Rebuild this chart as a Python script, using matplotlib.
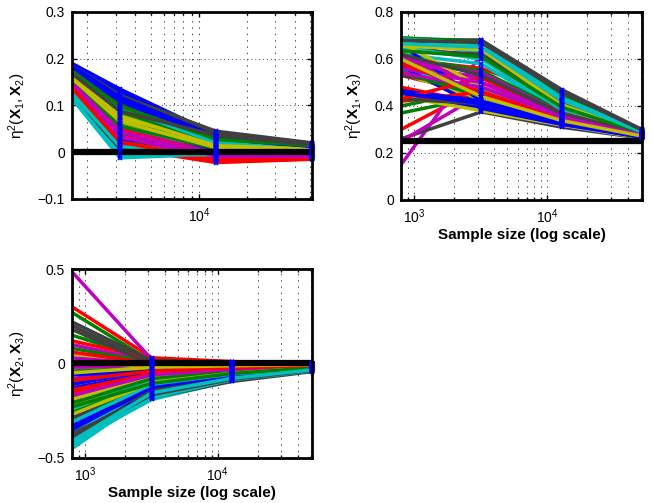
import numpy as np
import matplotlib.pyplot as plt
from matplotlib.ticker import NullFormatter, LogLocator

# Sample sizes (first panel starts at the visible left edge)
N1 = [1600, 3200, 12800, 51200]
N = [800, 3200, 12800, 51200]

# eta^2(X1,X2) per replicate
eta_12 = [
    [0.190, 0.135, 0.038, 0.012], [0.186, 0.126, 0.042, 0.018], [0.128, 0.010, -0.022, -0.015],
    [0.115, -0.012, -0.004, -0.006], [0.140, 0.040, -0.012, -0.010], [0.170, 0.085, 0.020, 0.006],
    [0.184, 0.120, 0.045, 0.020], [0.188, 0.130, 0.035, 0.010], [0.178, 0.105, 0.030, 0.015],
    [0.145, 0.030, -0.018, -0.013], [0.165, 0.070, 0.012, 0.004], [0.150, 0.045, 0.002, -0.004],
    [0.160, 0.075, 0.015, 0.006], [0.176, 0.100, 0.040, 0.017], [0.182, 0.115, 0.028, 0.008],
    [0.172, 0.094, 0.026, 0.012], [0.135, 0.018, -0.020, -0.014], [0.120, 0.002, -0.008, -0.008],
    [0.155, 0.052, -0.006, -0.009], [0.166, 0.080, 0.010, 0.003], [0.158, 0.060, 0.022, 0.010],
    [0.174, 0.110, 0.024, 0.009], [0.168, 0.090, 0.018, 0.011], [0.148, 0.036, -0.015, -0.012],
    [0.162, 0.066, 0.008, 0.002], [0.132, 0.025, -0.010, -0.011], [0.152, 0.058, 0.005, 0.001],
    [0.142, 0.042, 0.004, 0.000], [0.138, 0.028, 0.006, 0.002], [0.163, 0.082, 0.022, 0.013],
    [0.125, 0.014, -0.016, -0.013], [0.118, 0.005, 0.000, -0.004], [0.147, 0.050, -0.002, -0.006],
    [0.156, 0.070, 0.012, 0.005], [0.130, 0.022, -0.004, -0.003], [0.180, 0.125, 0.032, 0.014],
    [0.160, 0.064, 0.016, 0.008], [0.136, 0.048, -0.008, -0.007], [0.170, 0.096, 0.020, 0.007],
    [0.144, 0.032, -0.004, -0.008], [0.124, 0.020, -0.012, -0.010], [0.122, 0.008, -0.006, -0.005],
    [0.178, 0.112, 0.030, 0.011], [0.154, 0.056, 0.008, 0.004], [0.133, 0.016, -0.019, -0.014],
    [0.126, 0.012, -0.002, -0.004], [0.141, 0.034, -0.014, -0.009], [0.164, 0.078, 0.014, 0.007],
    [0.185, 0.122, 0.043, 0.019], [0.184, 0.118, 0.033, 0.012], [0.174, 0.098, 0.028, 0.014],
    [0.139, 0.022, -0.017, -0.012], [0.117, -0.008, -0.005, -0.007], [0.149, 0.044, -0.008, -0.009],
    [0.158, 0.066, 0.010, 0.004], [0.168, 0.088, 0.036, 0.016],
]

# eta^2(X1,X3)
eta_13 = [
    [0.620, 0.400, 0.330, 0.272], [0.370, 0.440, 0.338, 0.271], [0.300, 0.480, 0.350, 0.274],
    [0.690, 0.675, 0.420, 0.285], [0.150, 0.620, 0.395, 0.286], [0.650, 0.650, 0.410, 0.288],
    [0.260, 0.375, 0.310, 0.263], [0.470, 0.395, 0.320, 0.266], [0.685, 0.680, 0.450, 0.296],
    [0.600, 0.560, 0.440, 0.295], [0.680, 0.660, 0.430, 0.290], [0.250, 0.450, 0.345, 0.272],
    [0.640, 0.420, 0.340, 0.276], [0.675, 0.680, 0.470, 0.300], [0.460, 0.385, 0.315, 0.265],
    [0.660, 0.640, 0.400, 0.284], [0.590, 0.500, 0.365, 0.280], [0.670, 0.630, 0.390, 0.283],
    [0.550, 0.460, 0.350, 0.277], [0.630, 0.670, 0.415, 0.287], [0.660, 0.600, 0.440, 0.292],
    [0.450, 0.400, 0.325, 0.268], [0.400, 0.470, 0.360, 0.279], [0.530, 0.450, 0.342, 0.274],
    [0.620, 0.580, 0.375, 0.281], [0.580, 0.520, 0.360, 0.278], [0.540, 0.430, 0.335, 0.270],
    [0.530, 0.480, 0.355, 0.276], [0.660, 0.420, 0.328, 0.269], [0.610, 0.550, 0.380, 0.282],
    [0.480, 0.410, 0.330, 0.270], [0.560, 0.470, 0.348, 0.275], [0.600, 0.540, 0.370, 0.280],
    [0.440, 0.380, 0.318, 0.264], [0.640, 0.620, 0.420, 0.290], [0.570, 0.390, 0.322, 0.267],
    [0.545, 0.440, 0.340, 0.273], [0.420, 0.460, 0.345, 0.276], [0.650, 0.600, 0.385, 0.284],
    [0.610, 0.500, 0.358, 0.279], [0.670, 0.480, 0.352, 0.277], [0.430, 0.410, 0.335, 0.271],
    [0.465, 0.420, 0.330, 0.268], [0.690, 0.670, 0.440, 0.293], [0.430, 0.520, 0.370, 0.280],
    [0.685, 0.665, 0.435, 0.292], [0.560, 0.500, 0.362, 0.278], [0.655, 0.640, 0.405, 0.286],
    [0.620, 0.530, 0.368, 0.279], [0.455, 0.410, 0.327, 0.267], [0.635, 0.610, 0.395, 0.285],
    [0.580, 0.460, 0.346, 0.275], [0.665, 0.650, 0.425, 0.289], [0.540, 0.480, 0.354, 0.276],
    [0.600, 0.440, 0.338, 0.272], [0.680, 0.670, 0.460, 0.298],
]

# eta^2(X2,X3)
eta_23 = [
    [-0.200, 0.020, 0.005, -0.002], [0.270, 0.010, 0.004, 0.000], [0.300, 0.030, 0.010, 0.002],
    [-0.450, -0.160, -0.085, -0.040], [0.485, 0.020, 0.006, 0.001], [-0.120, -0.080, -0.045, -0.020],
    [0.200, 0.000, 0.002, -0.001], [-0.380, -0.140, -0.070, -0.030], [0.150, 0.015, 0.003, 0.000],
    [-0.150, -0.060, -0.030, -0.012], [-0.420, -0.190, -0.090, -0.038], [-0.080, -0.030, -0.015, -0.008],
    [0.050, -0.010, -0.008, -0.005], [-0.340, -0.180, -0.095, -0.043], [-0.280, -0.120, -0.060, -0.025],
    [-0.300, -0.100, -0.050, -0.022], [0.120, 0.025, 0.008, 0.001], [-0.360, -0.130, -0.065, -0.028],
    [0.100, 0.010, 0.002, -0.001], [-0.250, -0.090, -0.040, -0.018], [-0.320, -0.150, -0.075, -0.033],
    [-0.060, -0.040, -0.020, -0.010], [0.080, 0.005, 0.000, -0.002], [-0.180, -0.070, -0.035, -0.015],
    [-0.400, -0.170, -0.080, -0.035], [-0.020, -0.015, -0.010, -0.006], [-0.220, -0.110, -0.055, -0.024],
    [0.180, -0.005, 0.000, -0.002], [-0.330, -0.120, -0.062, -0.026], [-0.260, -0.095, -0.048, -0.021],
    [0.060, 0.000, -0.004, -0.003], [-0.240, -0.085, -0.042, -0.019], [-0.100, -0.045, -0.025, -0.011],
    [0.020, -0.020, -0.012, -0.007], [-0.370, -0.175, -0.088, -0.040], [-0.130, -0.050, -0.028, -0.013],
    [-0.040, -0.025, -0.014, -0.008], [-0.160, -0.075, -0.038, -0.016], [-0.430, -0.180, -0.086, -0.039],
    [0.030, -0.005, -0.006, -0.004], [-0.190, -0.065, -0.033, -0.014], [-0.290, -0.135, -0.068, -0.030],
    [-0.350, -0.125, -0.064, -0.027], [-0.210, -0.080, -0.040, -0.017], [-0.140, -0.055, -0.027, -0.011],
    [-0.310, -0.110, -0.056, -0.024], [-0.170, -0.060, -0.031, -0.013], [-0.270, -0.100, -0.052, -0.023],
    [-0.390, -0.165, -0.083, -0.037], [-0.110, -0.035, -0.018, -0.009], [-0.230, -0.105, -0.053, -0.023],
    [-0.090, -0.040, -0.022, -0.010], [-0.410, -0.155, -0.078, -0.034], [0.010, -0.010, -0.007, -0.004],
    [-0.050, -0.020, -0.012, -0.006], [0.220, 0.015, 0.005, 0.000],
]

# Reference (true) values
ref_12 = 0.0
ref_13 = 0.25
ref_23 = 0.0

# Old MATLAB colour order
COLORS = [(0, 0, 1), (0, 0.5, 0), (1, 0, 0), (0, 0.75, 0.75),
          (0.75, 0, 0.75), (0.75, 0.75, 0), (0.25, 0.25, 0.25)]

plt.rcParams['font.family'] = 'Liberation Sans'
plt.rcParams['mathtext.fontset'] = 'custom'
plt.rcParams['mathtext.rm'] = 'Liberation Sans'
plt.rcParams['mathtext.bf'] = 'Liberation Sans:bold'
plt.rcParams['mathtext.it'] = 'Liberation Sans:italic'
plt.rcParams['mathtext.default'] = 'regular'


def panel(ax, n, curves, ref, xlim, ylim, yticks, ylabel, xlabel=None):
    for i, c in enumerate(curves):
        ax.plot(n, c, '-', color=COLORS[i % 7], lw=2.5, zorder=2)
    ax.axhline(ref, color='k', lw=4.5, zorder=3)
    for c in curves:
        ax.plot(n[1:], c[1:], 'x', color='b', ms=3.5, mew=1.2, zorder=4, clip_on=False)
    ax.set_xscale('log')
    ax.set_xlim(xlim)
    ax.set_ylim(ylim)
    ax.set_yticks(yticks)
    ax.set_yticklabels([f'{t:g}'.replace('-', '\u2212') for t in yticks])
    ax.xaxis.set_minor_locator(LogLocator(base=10, subs=np.arange(2, 10)))
    ax.xaxis.set_minor_formatter(NullFormatter())
    ax.set_axisbelow(True)
    ax.grid(True, axis='x', which='both', color='0.3', lw=0.7, ls=(0, (1.5, 5)))
    ax.grid(True, axis='y', which='major', color='0.3', lw=0.7, ls=(0, (1, 3)))
    ax.tick_params(which='both', direction='in', top=True, right=True, labelsize=10, width=1)
    ax.tick_params(which='major', length=3.5, pad=5)
    ax.tick_params(which='minor', length=2)
    for s in ax.spines.values():
        s.set_linewidth(2)
        s.set_zorder(5)
    ax.set_ylabel(ylabel, fontsize=11, labelpad=7)
    if xlabel:
        ax.set_xlabel(xlabel, fontsize=11, fontweight='bold', labelpad=2)


fig = plt.figure(figsize=(6.51, 5.03), dpi=100)
ax1 = fig.add_axes([0.1106, 0.6044, 0.3687, 0.3718])
ax2 = fig.add_axes([0.616, 0.6024, 0.370, 0.3738])
ax3 = fig.add_axes([0.1106, 0.0895, 0.3687, 0.3757])

panel(ax1, N1, eta_12, ref_12, (1600, 51200), (-0.1, 0.3), [-0.1, 0, 0.1, 0.2, 0.3],
      r'$\eta^2(\mathbf{X}_1,\mathbf{X}_2)$')
panel(ax2, N, eta_13, ref_13, (800, 51200), (0, 0.8), [0, 0.2, 0.4, 0.6, 0.8],
      r'$\eta^2(\mathbf{X}_1,\mathbf{X}_3)$', 'Sample size (log scale)')
panel(ax3, N, eta_23, ref_23, (800, 51200), (-0.5, 0.5), [-0.5, 0, 0.5],
      r'$\eta^2(\mathbf{X}_2,\mathbf{X}_3)$', 'Sample size (log scale)')

fig.savefig('out.png', dpi=100)
